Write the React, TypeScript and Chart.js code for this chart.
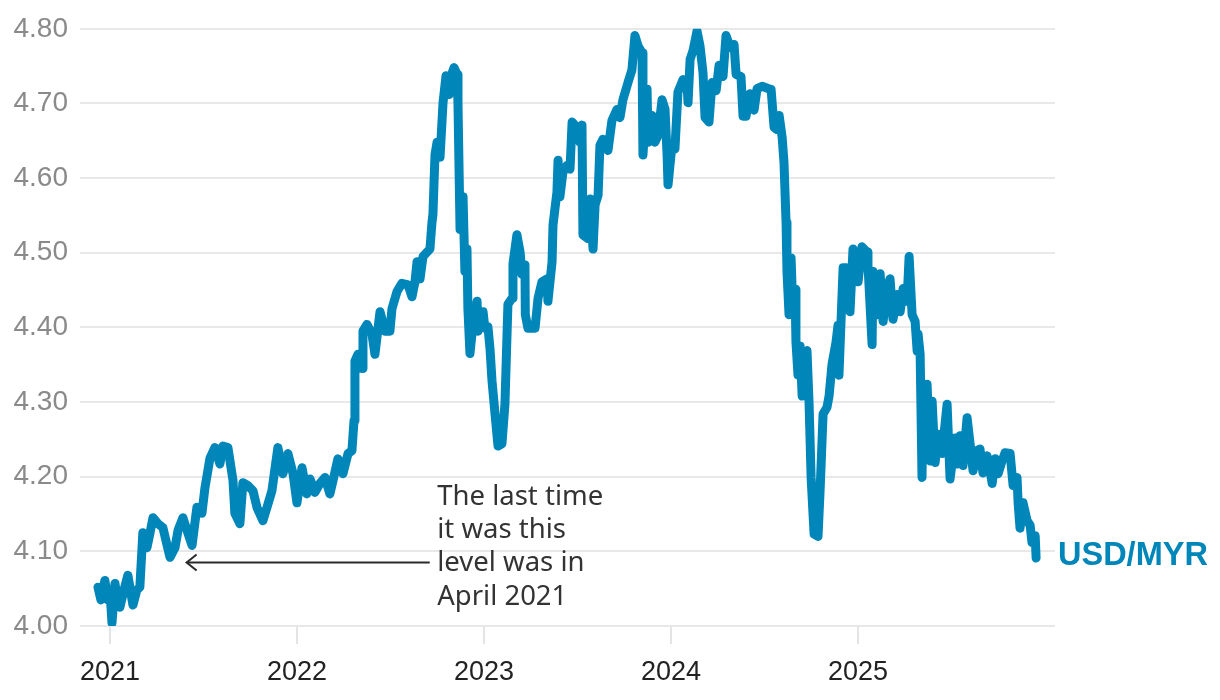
import React, { useEffect, useRef } from "react";
import { Chart, registerables } from "chart.js";

Chart.register(...registerables);

// Decimal-year dates of each observation
const dates: number[] = [
  2020.936, 2020.952, 2020.973, 2020.989, 2021.0, 2021.011, 2021.027, 2021.043, 2021.053, 2021.075,
  2021.096, 2021.123, 2021.144, 2021.16, 2021.176, 2021.198, 2021.214, 2021.23, 2021.257, 2021.283,
  2021.321, 2021.348, 2021.364, 2021.39, 2021.412, 2021.439, 2021.465, 2021.492, 2021.508, 2021.535,
  2021.561, 2021.588, 2021.604, 2021.631, 2021.658, 2021.668, 2021.695, 2021.711, 2021.738, 2021.765,
  2021.786, 2021.818, 2021.84, 2021.866, 2021.898, 2021.925, 2021.952, 2021.979, 2022.0, 2022.027,
  2022.053, 2022.07, 2022.096, 2022.123, 2022.15, 2022.176, 2022.193, 2022.219, 2022.246, 2022.273,
  2022.294, 2022.305, 2022.31, 2022.326, 2022.348, 2022.353, 2022.374, 2022.401, 2022.417, 2022.444,
  2022.471, 2022.497, 2022.508, 2022.535, 2022.561, 2022.594, 2022.615, 2022.631, 2022.642, 2022.658,
  2022.674, 2022.711, 2022.722, 2022.727, 2022.738, 2022.749, 2022.765, 2022.781, 2022.797, 2022.813,
  2022.824, 2022.84, 2022.856, 2022.861, 2022.872, 2022.888, 2022.898, 2022.909, 2022.914, 2022.925,
  2022.941, 2022.963, 2022.968, 2022.995, 2023.005, 2023.021, 2023.032, 2023.043, 2023.059, 2023.075,
  2023.096, 2023.112, 2023.128, 2023.15, 2023.155, 2023.176, 2023.193, 2023.203, 2023.219, 2023.221,
  2023.235, 2023.273, 2023.289, 2023.31, 2023.337, 2023.342, 2023.364, 2023.369, 2023.39, 2023.396,
  2023.406, 2023.422, 2023.444, 2023.46, 2023.471, 2023.497, 2023.513, 2023.524, 2023.529, 2023.556,
  2023.567, 2023.583, 2023.594, 2023.61, 2023.62, 2023.636, 2023.663, 2023.684, 2023.711, 2023.727,
  2023.743, 2023.77, 2023.791, 2023.807, 2023.824, 2023.845, 2023.85, 2023.872, 2023.877, 2023.898,
  2023.914, 2023.93, 2023.952, 2023.968, 2023.979, 2023.984, 2024.005, 2024.021, 2024.037, 2024.064,
  2024.086, 2024.091, 2024.102, 2024.118, 2024.139, 2024.155, 2024.171, 2024.182, 2024.203, 2024.219,
  2024.241, 2024.257, 2024.278, 2024.294, 2024.316, 2024.337, 2024.348, 2024.374, 2024.385, 2024.401,
  2024.422, 2024.444, 2024.46, 2024.487, 2024.519, 2024.535, 2024.551, 2024.567, 2024.578, 2024.594,
  2024.604, 2024.615, 2024.62, 2024.631, 2024.642, 2024.652, 2024.663, 2024.668, 2024.679, 2024.69,
  2024.701, 2024.717, 2024.727, 2024.738, 2024.749, 2024.765, 2024.786, 2024.797, 2024.813, 2024.834,
  2024.845, 2024.861, 2024.882, 2024.893, 2024.898, 2024.92, 2024.936, 2024.947, 2024.957, 2024.973,
  2025.0, 2025.021, 2025.048, 2025.053, 2025.075, 2025.08, 2025.102, 2025.118, 2025.134, 2025.155,
  2025.171, 2025.187, 2025.209, 2025.225, 2025.241, 2025.262, 2025.273, 2025.289, 2025.305, 2025.316,
  2025.321, 2025.332, 2025.342, 2025.348, 2025.369, 2025.385, 2025.396, 2025.412, 2025.428, 2025.449,
  2025.476, 2025.492, 2025.519, 2025.529, 2025.545, 2025.561, 2025.583, 2025.599, 2025.615, 2025.636,
  2025.652, 2025.668, 2025.69, 2025.706, 2025.717, 2025.733, 2025.749, 2025.77, 2025.786, 2025.813,
  2025.829, 2025.85, 2025.856, 2025.866, 2025.882, 2025.904, 2025.92, 2025.93, 2025.947, 2025.952,
];

// USD/MYR exchange rate
const rates: number[] = [
  4.052, 4.035, 4.061, 4.035, 4.048, 4.004, 4.057, 4.028, 4.025, 4.048,
  4.068, 4.028, 4.048, 4.052, 4.125, 4.105, 4.124, 4.145, 4.137, 4.132,
  4.092, 4.105, 4.128, 4.145, 4.128, 4.108, 4.159, 4.151, 4.185, 4.225,
  4.239, 4.217, 4.241, 4.239, 4.195, 4.151, 4.137, 4.192, 4.188, 4.181,
  4.159, 4.141, 4.159, 4.181, 4.239, 4.204, 4.231, 4.204, 4.165, 4.212,
  4.177, 4.197, 4.179, 4.191, 4.199, 4.177, 4.195, 4.224, 4.204, 4.231,
  4.235, 4.275, 4.355, 4.364, 4.345, 4.395, 4.404, 4.391, 4.364, 4.421,
  4.395, 4.395, 4.425, 4.448, 4.459, 4.457, 4.441, 4.461, 4.488, 4.465,
  4.495, 4.505, 4.541, 4.551, 4.631, 4.648, 4.628, 4.701, 4.737, 4.712,
  4.737, 4.748, 4.739, 4.699, 4.531, 4.575, 4.475, 4.505, 4.425, 4.365,
  4.404, 4.435, 4.395, 4.421, 4.399, 4.401, 4.372, 4.328, 4.284, 4.241,
  4.244, 4.297, 4.431, 4.439, 4.485, 4.524, 4.501, 4.471, 4.484, 4.417,
  4.399, 4.399, 4.439, 4.461, 4.465, 4.435, 4.488, 4.537, 4.581, 4.624,
  4.575, 4.608, 4.617, 4.612, 4.675, 4.668, 4.648, 4.671, 4.524, 4.519,
  4.572, 4.505, 4.564, 4.577, 4.644, 4.652, 4.637, 4.677, 4.692, 4.681,
  4.705, 4.728, 4.745, 4.791, 4.777, 4.768, 4.631, 4.719, 4.648, 4.684,
  4.648, 4.657, 4.705, 4.692, 4.631, 4.591, 4.644, 4.639, 4.715, 4.732,
  4.724, 4.701, 4.759, 4.771, 4.797, 4.777, 4.741, 4.681, 4.675, 4.728,
  4.717, 4.751, 4.736, 4.791, 4.775, 4.779, 4.739, 4.736, 4.683, 4.683,
  4.713, 4.691, 4.72, 4.723, 4.72, 4.719, 4.668, 4.665, 4.684, 4.655,
  4.621, 4.541, 4.475, 4.417, 4.493, 4.417, 4.451, 4.38, 4.336, 4.375,
  4.308, 4.365, 4.369, 4.299, 4.199, 4.123, 4.12, 4.181, 4.284, 4.293,
  4.308, 4.351, 4.38, 4.403, 4.336, 4.48, 4.48, 4.441, 4.421, 4.505,
  4.461, 4.508, 4.501, 4.484, 4.377, 4.475, 4.417, 4.472, 4.408, 4.452,
  4.465, 4.411, 4.444, 4.421, 4.452, 4.435, 4.495, 4.417, 4.408, 4.368,
  4.391, 4.364, 4.199, 4.319, 4.324, 4.221, 4.301, 4.219, 4.257, 4.231,
  4.297, 4.197, 4.252, 4.217, 4.255, 4.215, 4.279, 4.244, 4.208, 4.235,
  4.237, 4.205, 4.228, 4.208, 4.191, 4.224, 4.204, 4.221, 4.232, 4.231,
  4.188, 4.199, 4.164, 4.131, 4.165, 4.141, 4.135, 4.112, 4.121, 4.091,
];

const yTickValues: number[] = [4.0, 4.1, 4.2, 4.3, 4.4, 4.5, 4.6, 4.7, 4.8];
const xTickYears: number[] = [2021, 2022, 2023, 2024, 2025];
const seriesLabel = "USD/MYR";
const noteLines: string[] = ["The last time", "it was this", "level was in", "April 2021"];

// annotation anchors (data coordinates)
const arrowLevel = 4.085;
const arrowTipYear = 2021.41;
const arrowTailYear = 2022.71;
const noteYear = 2022.75;
const noteTopLevel = 4.1627;

const LINE_COLOR = "#0086b8";

export default function App() {
  const ref = useRef<HTMLCanvasElement | null>(null);

  useEffect(() => {
    if (!ref.current) return;

    const overlay = {
      id: "overlay",
      afterDraw(chart: any) {
        const ctx = chart.ctx;
        const xs = chart.scales.x;
        const ys = chart.scales.y;
        const area = chart.chartArea;
        ctx.save();
        // arrow
        const ay = ys.getPixelForValue(arrowLevel);
        const x1 = xs.getPixelForValue(arrowTipYear);
        const x2 = xs.getPixelForValue(arrowTailYear);
        ctx.strokeStyle = "#2b2b2b";
        ctx.lineWidth = 2;
        ctx.beginPath();
        ctx.moveTo(x2, ay);
        ctx.lineTo(x1, ay);
        ctx.stroke();
        ctx.beginPath();
        ctx.moveTo(x1 + 10, ay - 8);
        ctx.lineTo(x1, ay);
        ctx.lineTo(x1 + 10, ay + 8);
        ctx.stroke();
        // note text
        ctx.fillStyle = "#333333";
        ctx.font = '27.5px "Noto Sans"';
        ctx.textAlign = "left";
        ctx.textBaseline = "alphabetic";
        const tx = xs.getPixelForValue(noteYear);
        const ty = ys.getPixelForValue(noteTopLevel);
        noteLines.forEach((l, i) => ctx.fillText(l, tx, ty + i * 33.4));
        // series label
        const last = rates[rates.length - 1];
        const ly = ys.getPixelForValue(last);
        ctx.fillStyle = LINE_COLOR;
        ctx.font = 'bold 32.5px "Liberation Sans"';
        ctx.textBaseline = "middle";
        ctx.fillText(seriesLabel, area.right + 3, ly - 2);
        ctx.restore();
      },
    };

    const chart = new Chart(ref.current, {
      type: "line",
      data: {
        datasets: [
          {
            label: seriesLabel,
            data: dates.map((d, i) => ({ x: d, y: rates[i] })),
            borderColor: LINE_COLOR,
            borderWidth: 9,
            pointRadius: 0,
            tension: 0,
            borderJoinStyle: "round",
            borderCapStyle: "round",
            fill: false,
          },
        ],
      },
      options: {
        animation: false,
        responsive: false,
        devicePixelRatio: 1,
        layout: { padding: { top: 26, right: 165, bottom: 0, left: 0 } },
        plugins: { legend: { display: false }, tooltip: { enabled: false } },
        scales: {
          x: {
            type: "linear",
            min: 2020.84,
            max: 2026.053,
            afterBuildTicks: (s: any) => {
              s.ticks = xTickYears.map((v) => ({ value: v }));
            },
            afterFit: (s: any) => {
              s.height = 74;
            },
            ticks: {
              color: "#222222",
              font: { family: '"Liberation Sans"', size: 27 },
              padding: 12,
              maxRotation: 0,
              autoSkip: false,
              callback: (v: any) => String(v),
            },
            grid: {
              drawOnChartArea: false,
              drawTicks: true,
              tickLength: 18,
              color: "#e4e4e4",
              lineWidth: 2,
            },
            border: { display: false },
          },
          y: {
            min: 4.0,
            max: 4.8,
            afterBuildTicks: (s: any) => {
              s.ticks = yTickValues.map((v) => ({ value: v }));
            },
            afterFit: (s: any) => {
              s.width = 80;
            },
            ticks: {
              color: "#8a8a8a",
              font: { family: '"Liberation Sans"', size: 28 },
              padding: 12,
              callback: (v: any) => Number(v).toFixed(2),
            },
            grid: { color: "#e8e8e8", lineWidth: 2, drawTicks: false },
            border: { display: false },
          },
        },
      },
      plugins: [overlay],
    });

    return () => chart.destroy();
  }, []);

  return (
    <div style={{ position: "fixed", left: 0, top: 0, width: 1220, height: 700, background: "#fff" }}>
      <canvas ref={ref} width={1220} height={700} style={{ width: 1220, height: 700, display: "block" }} />
    </div>
  );
}
